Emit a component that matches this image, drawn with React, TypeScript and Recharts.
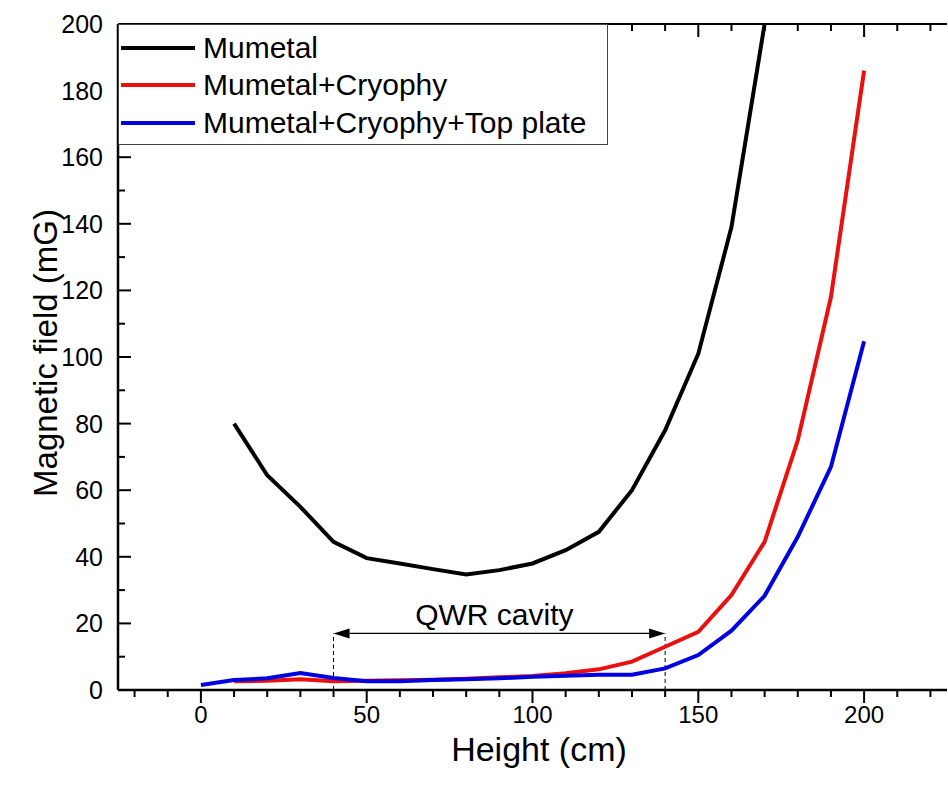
import React from "react";
import {
  LineChart,
  Line,
  XAxis,
  YAxis,
  Legend,
  ReferenceLine,
  Label,
} from "recharts";

document.body.style.margin = "0";

const FONT = '"Liberation Sans", Arial, sans-serif';
const PLOT_TOP = 24;

const heights = [0, 10, 20, 30, 40, 50, 60, 70, 80, 90, 100, 110, 120, 130, 140, 150, 160, 170, 180, 190, 200];
const mumetal = [null, 80, 64.5, 55, 44.5, 39.6, 38, 36.3, 34.7, 36, 38, 42, 47.5, 60, 78, 101, 139, 200, null, null, null];
const mumetalCryophy = [null, 2.6, 2.8, 3.2, 2.6, 2.8, 2.9, 3.1, 3.4, 3.8, 4.2, 5, 6.2, 8.5, 13, 17.5, 28.5, 44.5, 75, 118, 186];
const withTopPlate = [1.5, 3, 3.5, 5.1, 3.6, 2.6, 2.6, 3, 3.2, 3.5, 4, 4.3, 4.6, 4.6, 6.5, 10.5, 17.8, 28.3, 46, 67, 104.7];

const xTicks = [-20, -10, 0, 10, 20, 30, 40, 50, 60, 70, 80, 90, 100, 110, 120, 130, 140, 150, 160, 170, 180, 190, 200, 210, 220];
const yTicks = [0, 10, 20, 30, 40, 50, 60, 70, 80, 90, 100, 110, 120, 130, 140, 150, 160, 170, 180, 190, 200];

const cavityStart = 40;
const cavityEnd = 140;
const arrowLevel = 17;

const data = heights.map((h, i) => ({
  h,
  mumetal: mumetal[i],
  cryophy: mumetalCryophy[i],
  top: withTopPlate[i],
}));

// bottom axis tick: also draws the mirrored tick on the top frame (pointing down)
const BottomTick = (props: any) => {
  const { x, y, payload } = props;
  const major = payload.value % 50 === 0;
  const len = major ? 13 : 7;
  return (
    <g>
      <line x1={x} x2={x} y1={y} y2={y + len} stroke="#000" strokeWidth={2} />
      <line x1={x} x2={x} y1={PLOT_TOP} y2={PLOT_TOP + len} stroke="#000" strokeWidth={2} />
      {major && (
        <text x={x} y={y + 33} textAnchor="middle" fontSize={24} fontFamily={FONT} fill="#000">
          {payload.value}
        </text>
      )}
    </g>
  );
};

const LeftTick = (props: any) => {
  const { x, y, payload } = props;
  const major = payload.value % 20 === 0;
  return (
    <g>
      <line x1={x} x2={x + (major ? 13 : 7)} y1={y} y2={y} stroke="#000" strokeWidth={2} />
      {major && (
        <text x={x - 15} y={y + 9} textAnchor="end" fontSize={25} fontFamily={FONT} fill="#000">
          {payload.value}
        </text>
      )}
    </g>
  );
};

const RightTick = (props: any) => {
  const { x, y, payload } = props;
  const major = payload.value % 20 === 0;
  return <line x1={x} x2={x - (major ? 13 : 7)} y1={y} y2={y} stroke="#000" strokeWidth={2} />;
};

const LegendBox = (props: any) => {
  const { payload } = props;
  return (
    <div
      style={{
        border: "1px solid #444",
        background: "#fff",
        width: 490,
        height: 121,
        boxSizing: "border-box",
        paddingTop: 4,
        fontFamily: FONT,
      }}
    >
      {(payload || []).map((entry: any) => (
        <div key={entry.value} style={{ display: "flex", alignItems: "center", height: 37.5 }}>
          <svg width={76} height={8} style={{ marginLeft: 1 }}>
            <line x1={1} x2={75} y1={4} y2={4} stroke={entry.color} strokeWidth={4} />
          </svg>
          <span style={{ marginLeft: 7, fontSize: 30, color: "#000", lineHeight: "30px" }}>{entry.value}</span>
        </div>
      ))}
    </div>
  );
};

const ArrowShape = (props: any) => {
  const { x1, y1, x2, y2 } = props;
  const len = 16;
  const hw = 5;
  return (
    <g>
      <line x1={x1 + len} x2={x2 - len} y1={y1} y2={y2} stroke="#000" strokeWidth={1.3} />
      <polygon points={`${x1},${y1} ${x1 + len},${y1 - hw} ${x1 + len},${y1 + hw}`} fill="#000" />
      <polygon points={`${x2},${y2} ${x2 - len},${y2 - hw} ${x2 - len},${y2 + hw}`} fill="#000" />
    </g>
  );
};

export default function App() {
  return (
    <div style={{ width: 948, height: 787, background: "#fff", position: "relative" }}>
      <LineChart width={948} height={787} data={data} margin={{ top: PLOT_TOP, right: 1, bottom: 0, left: 0 }}>
        <XAxis
          xAxisId="b"
          dataKey="h"
          type="number"
          domain={[-25, 225]}
          ticks={xTicks}
          interval={0}
          height={97}
          tickSize={0}
          tickMargin={0}
          tickLine={false}
          tick={<BottomTick />}
          axisLine={{ stroke: "#000", strokeWidth: 2.5 }}
          allowDataOverflow
        />
        <YAxis
          yAxisId="l"
          type="number"
          domain={[0, 200]}
          ticks={yTicks}
          interval={0}
          width={118}
          tickSize={0}
          tickMargin={0}
          tickLine={false}
          tick={<LeftTick />}
          axisLine={{ stroke: "#000", strokeWidth: 2.5 }}
          allowDataOverflow
        />
        <YAxis
          yAxisId="r"
          orientation="right"
          type="number"
          domain={[0, 200]}
          ticks={yTicks}
          interval={0}
          width={0}
          tickSize={0}
          tickMargin={0}
          tickLine={false}
          tick={<RightTick />}
          axisLine={{ stroke: "#000", strokeWidth: 2 }}
          allowDataOverflow
        />
        {/* top frame */}
        <ReferenceLine xAxisId="b" yAxisId="l" y={200} stroke="#000" strokeWidth={2} />
        <ReferenceLine
          xAxisId="b"
          yAxisId="l"
          segment={[{ x: cavityStart, y: 0 }, { x: cavityStart, y: arrowLevel }]}
          stroke="#000"
          strokeWidth={1}
          strokeDasharray="4 3"
        />
        <ReferenceLine
          xAxisId="b"
          yAxisId="l"
          segment={[{ x: cavityEnd, y: 0 }, { x: cavityEnd, y: arrowLevel }]}
          stroke="#000"
          strokeWidth={1}
          strokeDasharray="4 3"
        />
        <ReferenceLine
          xAxisId="b"
          yAxisId="l"
          segment={[{ x: cavityStart, y: arrowLevel }, { x: cavityEnd, y: arrowLevel }]}
          shape={<ArrowShape />}
        >
          <Label value="QWR cavity" position="top" offset={8} fontSize={30} fontFamily={FONT} fill="#000" dx={-5} />
        </ReferenceLine>
        <Line
          xAxisId="b"
          yAxisId="l"
          type="linear"
          dataKey="mumetal"
          name="Mumetal"
          stroke="#000000"
          strokeWidth={4}
          dot={false}
          isAnimationActive={false}
        />
        <Line
          xAxisId="b"
          yAxisId="l"
          type="linear"
          dataKey="cryophy"
          name="Mumetal+Cryophy"
          stroke="#ea1010"
          strokeWidth={4}
          dot={false}
          isAnimationActive={false}
        />
        <Line
          xAxisId="b"
          yAxisId="l"
          type="linear"
          dataKey="top"
          name="Mumetal+Cryophy+Top plate"
          stroke="#0000e0"
          strokeWidth={4}
          dot={false}
          isAnimationActive={false}
        />
        <Legend
          layout="vertical"
          align="center"
          verticalAlign="middle"
          wrapperStyle={{ top: 24, left: 118, width: 490 }}
          content={<LegendBox />}
        />
        <text x={539} y={761} textAnchor="middle" fontSize={34} fontFamily={FONT} fill="#000">
          Height (cm)
        </text>
        <text
          x={57}
          y={353}
          transform="rotate(-90, 57, 353)"
          textAnchor="middle"
          fontSize={33}
          fontFamily={FONT}
          fill="#000"
        >
          Magnetic field (mG)
        </text>
      </LineChart>
    </div>
  );
}
